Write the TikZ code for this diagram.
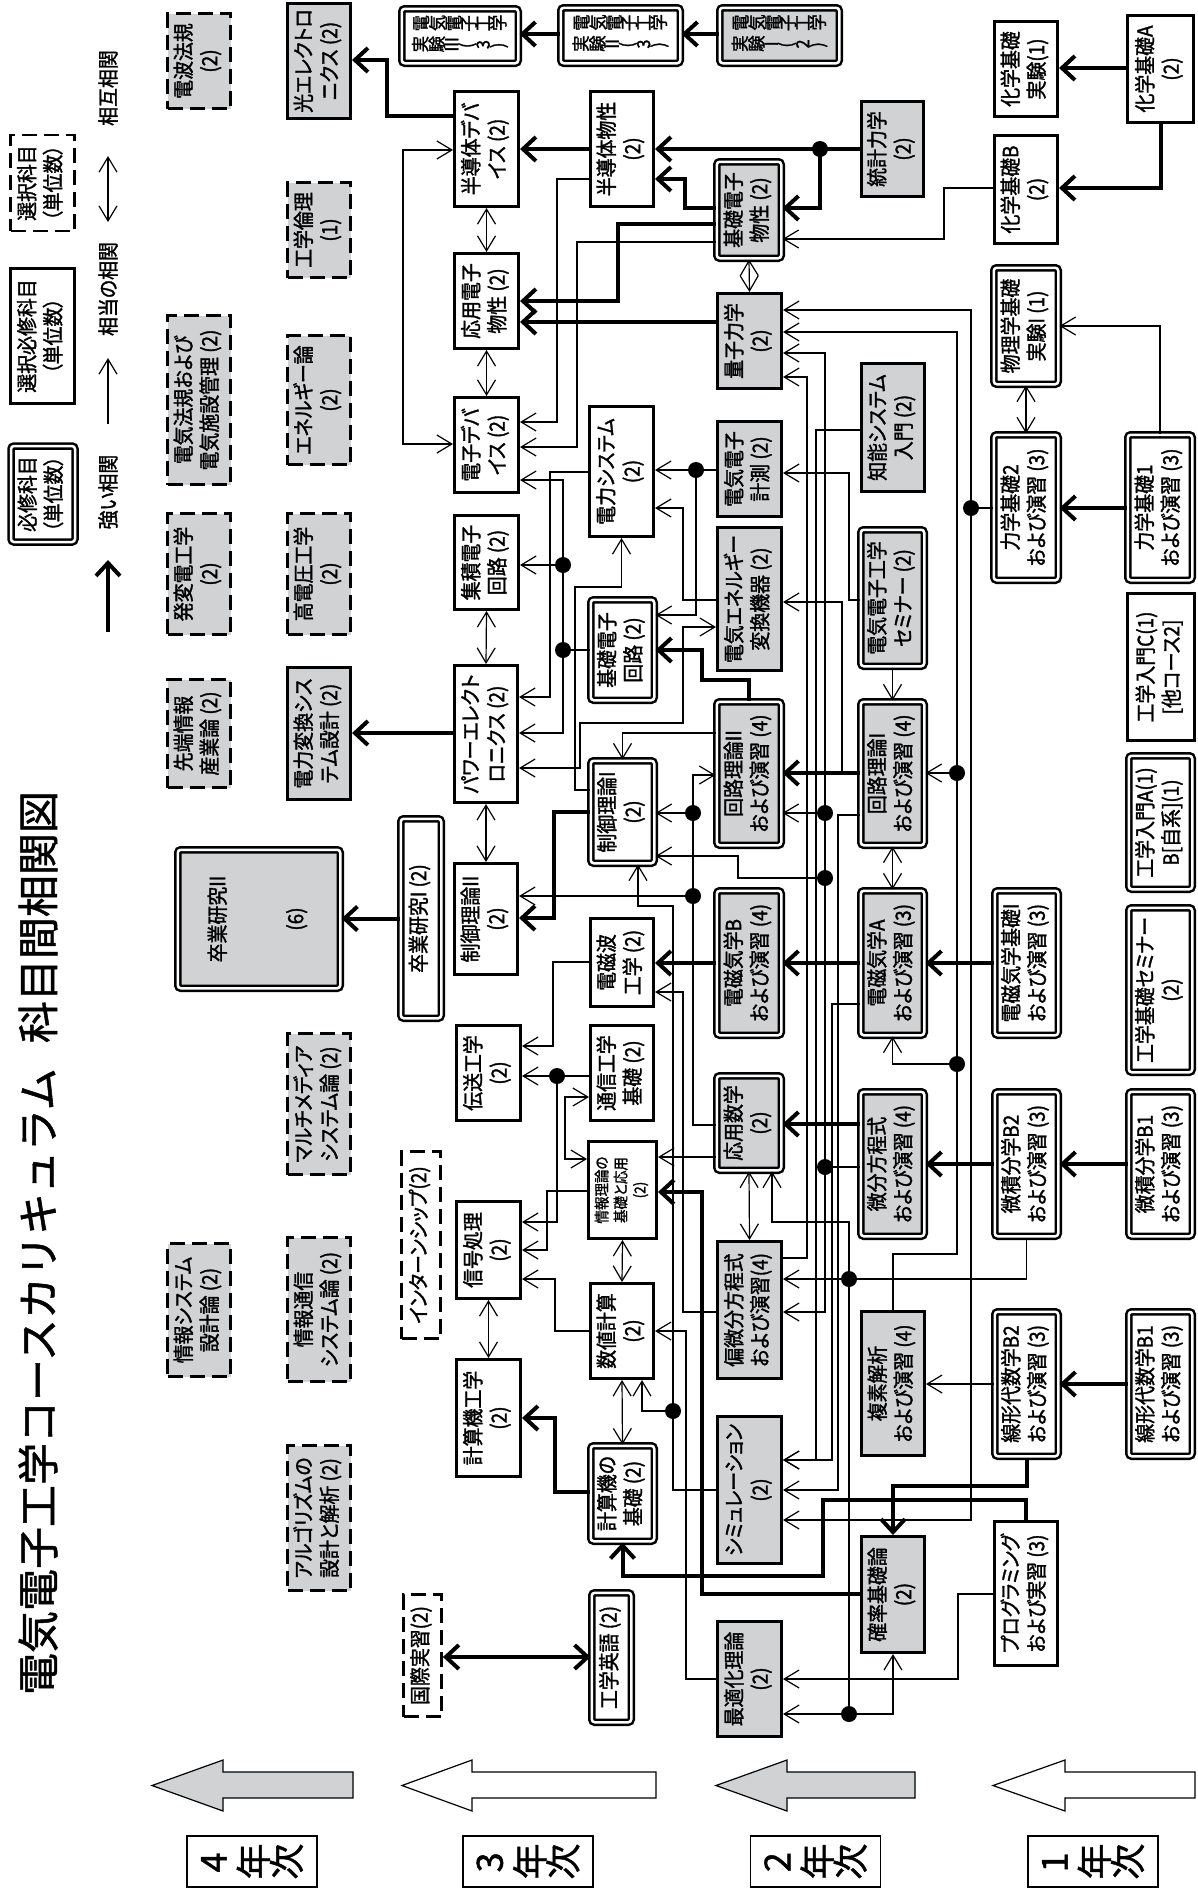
\documentclass[tikz,border=0pt]{standalone}
\usepackage{fontspec}
\setmainfont{Noto Sans CJK JP}[FakeStretch=0.9,FakeBold=1.5,RawFeature=+palt]
\newfontfamily\titlefont{Noto Sans CJK JP}[FakeBold=1.2]
\usepackage{graphicx}
\usetikzlibrary{arrows.meta,positioning}
\definecolor{boxgray}{RGB}{209,210,212}

% box text runs upwards
\newcommand{\rt}[1]{\rotatebox{90}{\begin{tabular}{@{}c@{}}#1\end{tabular}}}
% every character turned on its own
\newcommand{\tate}[1]{\tateloop#1\relax}
\newcommand{\tateloop}[1]{\ifx\relax#1\else\rotatebox[origin=c]{90}{#1}\expandafter\tateloop\fi}

\tikzset{
  box/.style={draw, align=center, inner sep=0pt, font=\fontsize{21}{26}\selectfont},
  req/.style={box, line width=2.5pt, double=white, double distance=2.5pt, rounded corners=3pt},
  semi/.style={box, line width=3pt},
  opt/.style={box, line width=2.8pt, dash pattern=on 15pt off 7pt},
  shade/.style={fill=boxgray},
  strong/.style={line width=4pt, -{Straight Barb[length=13pt,width=24pt]}},
  weak/.style={line width=1.2pt, -{Straight Barb[length=15pt,width=18pt]}},
  mutual/.style={line width=1.2pt, {Straight Barb[length=15pt,width=18pt]}-{Straight Barb[length=15pt,width=18pt]}},
  yearbox/.style={draw, line width=1.2pt, minimum width=130, minimum height=51, font=\titlefont\fontsize{36}{36}\selectfont},
}

\begin{document}
\begin{tikzpicture}[x=1pt,y=-1pt]
\fill[white] (0,0) rectangle (1198,1890);
\useasboundingbox (0,0) rectangle (1198,1890);

% Title and legend
\node[rotate=90, font=\titlefont\fontsize{42}{42}\selectfont] at (38,1243) (title) {電気電子工学コースカリキュラム\hspace{0.6em}科目間相関図};
\node[req, minimum width=64, minimum height=96] at (43,494) (legreq) {\rt{必修科目\\（単位数）}};
\node[semi, minimum width=64, minimum height=135] at (42.5,336) (legsemi) {\rt{選択必修科目\\（単位数）}};
\node[opt, minimum width=64, minimum height=96] at (42.5,183) (legopt) {\rt{選択科目\\（単位数）}};
\node[rotate=90, font=\fontsize{21}{26}\selectfont] at (108,492) (legstrong) {強い相関};
\node[rotate=90, font=\fontsize{21}{26}\selectfont] at (108,289) (legweak) {相当の相関};
\node[rotate=90, font=\fontsize{21}{26}\selectfont] at (108,88) (legmutual) {相互相関};
\coordinate (ls1) at (108,632); \coordinate (ls2) at (108,560);
\coordinate (lw1) at (108,424); \coordinate (lw2) at (108,358);
\coordinate (lm1) at (108,222); \coordinate (lm2) at (108,156);

% 4th year
\node[opt, shade, minimum width=63, minimum height=95] at (199,61) (denpa) {\rt{電波法規\\(2)}};
\node[opt, shade, minimum width=63, minimum height=169] at (199,400) (hoki) {\rt{電気法規および\\電気施設管理 (2)}};
\node[opt, shade, minimum width=63, minimum height=121] at (199,574) (hatsuhen) {\rt{発変電工学\\(2)}};
\node[opt, shade, minimum width=63, minimum height=108] at (199,733.5) (sentan) {\rt{先端情報\\産業論 (2)}};
\node[opt, shade, minimum width=63, minimum height=133] at (199,1310) (jsys) {\rt{情報システム\\設計論 (2)}};
\node[semi, shade, minimum width=63, minimum height=115] at (319,61) (hikari) {\rt{光エレクトロ\\ニクス (2)}};
\node[opt, shade, minimum width=63, minimum height=95] at (319,230) (rinri) {\rt{工学倫理\\(1)}};
\node[opt, shade, minimum width=63, minimum height=129] at (319,400) (energy) {\rt{エネルギー論\\(2)}};
\node[opt, shade, minimum width=63, minimum height=121] at (319,574) (koatsu) {\rt{高電圧工学\\(2)}};
\node[semi, shade, minimum width=63, minimum height=132] at (319,733.5) (henkan) {\rt{電力変換シス\\テム設計 (2)}};
\node[opt, shade, minimum width=63, minimum height=141] at (319,1104) (multi) {\rt{マルチメディア\\システム論 (2)}};
\node[opt, shade, minimum width=63, minimum height=144] at (319,1309.5) (jtsushin) {\rt{情報通信\\システム論 (2)}};
\node[opt, shade, minimum width=63, minimum height=145] at (319,1518) (algo) {\rt{アルゴリズムの\\設計と解析 (2)}};
\node[req, shade, minimum width=162.5, minimum height=138.5] at (259,919) (sotsu2) {\rt{卒業研究II\\[52pt](6)}};

% 3rd year
\node[req, minimum width=40.5, minimum height=199.5] at (421,918.5) (sotsu1) {\rt{卒業研究I (2)}};
\node[opt, minimum width=39, minimum height=187] at (421,1245) (intern) {\rt{インターンシップ(2)}};
\node[opt, minimum width=38, minimum height=122] at (422.5,1655.5) (kokusai) {\rt{国際実習(2)}};
\node[req, minimum width=116.5, minimum height=54.5, font=\fontsize{18}{21}\selectfont] at (460,36) (jikken3) {\begin{tabular}{@{}c@{}}\tate{電気電子工学}\\\tate{実験Ⅲ(3)}\end{tabular}};
\node[req, minimum width=119.5, minimum height=55.5, font=\fontsize{18}{21}\selectfont] at (620.5,35.5) (jikken2) {\begin{tabular}{@{}c@{}}\tate{電気電子工学}\\\tate{実験Ⅱ(3)}\end{tabular}};
\node[semi, minimum width=64, minimum height=115] at (486.5,149) (hdev) {\rt{半導体デバ\\イス (2)}};
\node[semi, minimum width=64, minimum height=95] at (486.5,301) (oyodenshi) {\rt{応用電子\\物性 (2)}};
\node[semi, minimum width=64, minimum height=95] at (486.5,445) (edev) {\rt{電子デバ\\イス (2)}};
\node[semi, minimum width=64, minimum height=94] at (486.5,562.5) (shuseki) {\rt{集積電子\\回路 (2)}};
\node[semi, minimum width=63, minimum height=137] at (486,734) (power) {\rt{パワーエレクト\\ロニクス (2)}};
\node[semi, minimum width=63, minimum height=111] at (486,919) (seigyo2) {\rt{制御理論II\\(2)}};
\node[semi, minimum width=64, minimum height=95] at (488.5,1073) (densou) {\rt{伝送工学\\(2)}};
\node[semi, minimum width=64, minimum height=97] at (488.5,1250) (shingo) {\rt{信号処理\\(2)}};
\node[semi, minimum width=64, minimum height=117] at (488.5,1418) (keisankiko) {\rt{計算機工学\\(2)}};
\node[semi, minimum width=63, minimum height=115] at (622,149) (hbussei) {\rt{半導体物性\\(2)}};
\node[semi, minimum width=64, minimum height=130] at (621.5,471.5) (denryoku) {\rt{電力システム\\(2)}};
\node[req, minimum width=63.5, minimum height=100.5] at (622.5,650) (kisokairo) {\rt{基礎電子\\回路 (2)}};
\node[req, minimum width=63.5, minimum height=102.5] at (622.5,812) (seigyo1) {\rt{制御理論I\\(2)}};
\node[semi, minimum width=63, minimum height=88] at (622,962.5) (denjiha) {\rt{電磁波\\工学 (2)}};
\node[semi, minimum width=63, minimum height=95] at (622,1073) (tsushin) {\rt{通信工学\\基礎 (2)}};
\node[semi, minimum width=68, minimum height=97, font=\fontsize{15}{19}\selectfont] at (622.5,1190) (joho) {\rt{情報理論の\\基礎と応用\\(2)}};
\node[semi, minimum width=63, minimum height=95] at (622,1331) (suchi) {\rt{数値計算\\(2)}};
\node[req, minimum width=63.5, minimum height=95.5] at (622.5,1493.5) (keisankiso) {\rt{計算機の\\基礎 (2)}};
\node[req, minimum width=39.5, minimum height=129.5] at (611.5,1657.5) (eigo) {\rt{工学英語 (2)}};

% 2nd year
\node[req, shade, minimum width=119.5, minimum height=55.5, font=\fontsize{18}{21}\selectfont] at (779.5,35.5) (jikken1) {\begin{tabular}{@{}c@{}}\tate{電気電子工学}\\\tate{実験Ⅰ(2)}\end{tabular}};
\node[req, shade, minimum width=64.5, minimum height=96.5] at (749,210) (kisobussei) {\rt{基礎電子\\物性 (2)}};
\node[semi, shade, minimum width=64, minimum height=95] at (749.5,341) (ryoshi) {\rt{量子力学\\(2)}};
\node[semi, shade, minimum width=64, minimum height=95] at (749.5,469) (keisoku) {\rt{電気電子\\計測 (2)}};
\node[semi, shade, minimum width=64, minimum height=143] at (749.5,599) (eneconv) {\rt{電気エネルギー\\変換機器 (2)}};
\node[req, shade, minimum width=64.5, minimum height=143.5] at (749,773.5) (kairo2) {\rt{回路理論II\\および演習 (4)}};
\node[req, shade, minimum width=64.5, minimum height=144.5] at (749,963) (denjiB) {\rt{電磁気学B\\および演習 (4)}};
\node[req, shade, minimum width=64.5, minimum height=94.5] at (749,1123) (oyosugaku) {\rt{応用数学\\(2)}};
\node[semi, shade, minimum width=64, minimum height=137] at (749.5,1310) (henbibun) {\rt{偏微分方程式\\および演習(4)}};
\node[semi, shade, minimum width=64, minimum height=147] at (749.5,1490) (simu) {\rt{シミュレーション\\(2)}};
\node[semi, shade, minimum width=64, minimum height=115] at (749.5,1679) (saiteki) {\rt{最適化理論\\(2)}};
\node[semi, shade, minimum width=62, minimum height=95] at (892.5,149) (tokei) {\rt{統計力学\\(2)}};
\node[semi, shade, minimum width=63, minimum height=128] at (893,427.5) (chino) {\rt{知能システム\\入門 (2)}};
\node[req, shade, minimum width=63.5, minimum height=136.5] at (892.5,598) (seminar) {\rt{電気電子工学\\セミナー (2)}};
\node[req, shade, minimum width=63.5, minimum height=143.5] at (892.5,773.5) (kairo1) {\rt{回路理論I\\および演習 (4)}};
\node[req, shade, minimum width=63.5, minimum height=144.5] at (892.5,963) (denjiA) {\rt{電磁気学A\\および演習 (3)}};
\node[req, shade, minimum width=63.5, minimum height=144.5] at (892.5,1164) (bibun) {\rt{微分方程式\\および演習 (4)}};
\node[semi, shade, minimum width=63, minimum height=144] at (893,1383.5) (fukuso) {\rt{複素解析\\および演習 (4)}};
\node[semi, shade, minimum width=63, minimum height=116] at (893,1594.5) (kakuritsu) {\rt{確率基礎論\\(2)}};

% 1st year
\node[semi, minimum width=63, minimum height=95] at (1026,69) (kagakujikken) {\rt{化学基礎\\実験(1)}};
\node[semi, minimum width=63, minimum height=108] at (1026,189.5) (kagakuB) {\rt{化学基礎B\\(2)}};
\node[req, minimum width=64.5, minimum height=116.5] at (1026,326) (butsurijikken) {\rt{物理学基礎\\実験I (1)}};
\node[req, minimum width=64.5, minimum height=145.5] at (1026,507.5) (rikigaku2) {\rt{力学基礎2\\および演習 (3)}};
\node[req, minimum width=63.5, minimum height=144.5] at (1026.5,963) (denjikiso) {\rt{電磁気学基礎I\\および演習 (3)}};
\node[req, minimum width=63.5, minimum height=144.5] at (1026.5,1164) (bisekiB2) {\rt{微積分学B2\\および演習 (3)}};
\node[req, minimum width=63.5, minimum height=144.5] at (1026.5,1384) (senkeiB2) {\rt{線形代数学B2\\および演習 (3)}};
\node[semi, minimum width=63, minimum height=144] at (1026,1593.5) (program) {\rt{プログラミング\\および実習 (3)}};
\node[semi, minimum width=66, minimum height=107] at (1160.5,69) (kagakuA) {\rt{化学基礎A\\(2)}};
\node[req, minimum width=64.5, minimum height=145.5] at (1160,507.5) (rikigaku1) {\rt{力学基礎1\\および演習 (3)}};
\node[semi, minimum width=67, minimum height=147] at (1161,667) (nyumonC) {\rt{工学入門C(1)\\{}[他コース2]}};
\node[req, minimum width=63.5, minimum height=133.5] at (1160.5,822.5) (nyumonAB) {\rt{工学入門A(1)\\B[自系](1)}};
\node[req, minimum width=63.5, minimum height=164.5] at (1160.5,990) (kisosemi) {\rt{工学基礎セミナー\\(2)}};
\node[req, minimum width=63.5, minimum height=144.5] at (1160.5,1164) (bisekiB1) {\rt{微積分学B1\\および演習 (3)}};
\node[req, minimum width=63.5, minimum height=144.5] at (1160.5,1384) (senkeiB1) {\rt{線形代数学B1\\および演習 (3)}};

% year arrows and labels
\foreach \tip/\base/\tail/\col in {152/223/353/boxgray, 402/472/656/white, 716/787/915/boxgray, 993/1065/1195/white}
  \draw[line width=1.2pt, fill=\col] (\tip,1785.5) -- (\base,1760) -- (\base,1772) -- (\tail,1772) -- (\tail,1798) -- (\base,1798) -- (\base,1811) -- cycle;
\node[yearbox] at (252,1861.5) (year4) {\tate{4}\hspace{10pt}\tate{年次}};
\node[yearbox] at (528,1861.5) (year3) {\tate{3}\hspace{10pt}\tate{年次}};
\node[yearbox] at (815.5,1861.5) (year2) {\tate{2}\hspace{10pt}\tate{年次}};
\node[yearbox] at (1093,1861.5) (year1) {\tate{1}\hspace{10pt}\tate{年次}};

% legend arrows
\draw[strong] (ls1) -- (ls2);
\draw[weak] (lw1) -- (lw2);
\draw[mutual] (lm1) -- (lm2);

% strong links
\draw[strong] (jikken1.west |- 0,34) -- (jikken2.east |- 0,34);
\draw[strong] (jikken2.west |- 0,34) -- (jikken3.east |- 0,34);
\draw[strong] (hdev.west |- 0,116) -| (387,60) -- (hikari.east |- 0,60);
\draw[strong] (hbussei.west |- 0,149) -- (hdev.east |- 0,149);
\coordinate (jtok) at (820,149);
\draw[strong] (tokei.west |- jtok) -- (hbussei.east |- jtok);
\draw[strong] (jtok) |- (kisobussei.east |- 0,208);
\draw[strong] (kisobussei.west |- 0,208) -| (685,179) -- (hbussei.east |- 0,179);
\draw[strong] (kisobussei.west |- 0,224) -| (618,301) -- (oyodenshi.east |- 0,301);
\draw[strong] (ryoshi.west |- 0,322) -- (oyodenshi.east |- 0,322);
\draw[strong] (kagakuA.west |- 0,68) -- (kagakujikken.east |- 0,68);
\draw[strong] (kagakuA.south) |- (kagakuB.east |- 0,188);
\draw[strong] (rikigaku1.west |- 0,508) -- (rikigaku2.east |- 0,508);
\draw[strong] (power.west |- 0,733) -- (henkan.east |- 0,733);
\draw[strong] (sotsu1.west) -- (sotsu2.east |- sotsu1.west);
\draw[strong] (seigyo1.west |- 0,812) -| (554,918) -- (seigyo2.east |- 0,918);
\draw[strong] (kairo2.north) |- (702,680) |- (kisokairo.east |- 0,650);
\draw[strong] (kairo1.west |- 0,773) -- (kairo2.east |- 0,773);
\draw[strong] (denjiA.west |- 0,963) -- (denjiB.east |- 0,963);
\draw[strong] (denjiB.west |- 0,963) -- (denjiha.east |- 0,963);
\draw[strong] (denjikiso.west |- 0,963) -- (denjiA.east |- 0,963);
\draw[strong] (bibun.west |- 0,1124) -- (oyosugaku.east |- 0,1124);
\draw[strong] (bisekiB2.west |- 0,1164) -- (bibun.east |- 0,1164);
\draw[strong] (bisekiB1.west |- 0,1164) -- (bisekiB2.east |- 0,1164);
\draw[strong] (senkeiB1.west |- 0,1384) -- (senkeiB2.east |- 0,1384);
\draw[strong] (senkeiB2.south) |- (893,1486) -- (kakuritsu.north);
\draw[strong] (program.north) |- (823,1500) -- (823,1576) -| (keisankiso.south);
\draw[strong] (kakuritsu.west |- 0,1594) -| (702,1192) -- (joho.east |- 0,1192);
\draw[strong] (keisankiso.west |- 0,1492) -| (555,1418) -- (keisankiko.east |- 0,1418);
\draw[strong, {Straight Barb[length=13pt,width=24pt]}-{Straight Barb[length=13pt,width=24pt]}] (kokusai.east |- 0,1657) -- (eigo.west |- 0,1657);

% weak links
\draw[weak] (rikigaku1.north) |- (butsurijikken.east |- 0,326);
\draw[weak] (kagakuB.west |- 0,188) -| (944,239) -- (kisobussei.east |- 0,239);
\coordinate (jrik) at (971,508);
\draw[weak] (rikigaku2.west |- jrik) -- (jrik) |- (ryoshi.east |- 0,310);
\draw[weak] (jrik) |- (simu.east |- 0,1520);
\coordinate (jfuk1) at (957,773); \coordinate (jfuk2) at (957,1064);
\draw[weak] (fukuso.north) |- (957,1254) |- (ryoshi.east |- 0,332);
\draw[weak] (jfuk1) -- (kairo1.east |- jfuk1);
\draw[weak] (jfuk2) -| (denjiA.south);
\coordinate (jbib1) at (825,1167); \coordinate (jbib2) at (825,813); \coordinate (jbib3) at (825,878);
\draw[weak] (bibun.west |- jbib1) -- (jbib1) |- (ryoshi.east |- 0,353);
\draw[weak] (jbib1) |- (henbibun.east |- 0,1312);
\draw[weak] (jbib2) -- (kairo2.east |- jbib2);
\draw[weak] (jbib3) -| (738,856) -- (seigyo1.east |- 0,856);
\draw[weak] (henbibun.east |- 0,1258) -| (807,377) -- (ryoshi.east |- 0,377);
\draw[weak] (chino.west |- 0,430) -| (816,1460) -- (simu.east |- 0,1460);
\draw[weak] (seminar.west |- 0,600) -| (849,473) -- (keisoku.east |- 0,473);
\draw[weak] (seminar.south) -- (kairo1.north);
\draw[weak] (kairo1.west |- 0,773) -| (842,602) -- (eneconv.east |- 0,602);
\draw[weak] (kairo1.west |- 0,815) -| (838,1490) -- (simu.east |- 0,1490);
\draw[weak] (denjiA.west |- 0,1004) -| (832,1460) -- (simu.east |- 0,1460);
\coordinate (jkei) at (696,470);
\draw[weak] (keisoku.west |- jkei) -- (jkei) -- (denryoku.east |- jkei);
\draw[weak] (jkei) |- (kisokairo.east |- 0,615);
\draw[weak] (eneconv.west |- 0,600) -| (683,508) -- (denryoku.east |- 0,508);
\draw[weak] (kairo2.west |- 0,733) -| (seigyo1.north);
\draw[weak] (seigyo1.west |- 0,790) -| (575,587) -| (denryoku.south);
\coordinate (jkk1) at (563,650); \coordinate (jkk2) at (563,565);
\draw[weak] (kisokairo.west |- jkk1) -- (jkk1) |- (edev.east |- 0,480);
\draw[weak] (jkk2) -- (shuseki.east |- jkk2);
\draw[weak] (jkk1) |- (power.east |- 0,733);
\draw[weak] (denryoku.west |- 0,472) -| (550,697) -- (power.east |- 0,697);
\draw[weak] (hbussei.west |- 0,179) -| (557,422) -- (edev.east |- 0,422);
\draw[weak] (kisobussei.west |- 0,242) -| (577,447) -- (edev.east |- 0,447);
\coordinate (jos1) at (693,813); \coordinate (jos2) at (693,896);
\draw[weak] (oyosugaku.west |- 0,1125) -| (693,775) -- (kairo2.west |- 0,775);
\draw[weak] (jos1) -- (seigyo1.east |- jos1);
\draw[weak] (jos2) -- (seigyo2.east |- jos2);
\draw[weak] (oyosugaku.west |- 0,1157) -- (joho.east |- 0,1157);
\draw[weak] (denjiha.west |- 0,962) -| (553,1046) -- (densou.east |- 0,1046);
\coordinate (jtsu) at (557,1076);
\draw[weak] (tsushin.west |- jtsu) -- (jtsu) -- (densou.east |- jtsu);
\draw[weak] (jtsu) |- (shingo.east |- 0,1222);
\draw[weak] (joho.west |- 0,1191) -| (547,1250) -- (shingo.east |- 0,1250);
\draw[weak] (suchi.west |- 0,1331) -| (555,1279) -- (shingo.east |- 0,1279);
\draw[weak] (saiteki.west |- 0,1679) -| (686,1331) -- (suchi.east |- 0,1331);
\draw[weak] (henbibun.west |- 0,1312) -| (683,992) -- (denjiha.east |- 0,992);
\coordinate (jsim) at (673,1411);
\draw[weak] (simu.west |- 0,1490) -| (jsim) -| (suchi.south -| 642,0);
\draw[weak] (jsim) |- (638,906) -- (seigyo1.south -| 638,0);
\draw[weak] (senkeiB2.west |- 0,1384) -- (fukuso.east |- 0,1384);
\draw[weak] (program.west |- 0,1594) -| (958,1679) -- (saiteki.east |- 0,1679);
\coordinate (jbs1) at (849,1279); \coordinate (jbs2) at (849,1714);
\draw[weak] (bisekiB2.south) |- (jbs1) -- (henbibun.east |- jbs1);
\draw[weak] (jbs1) |- (772,1222) -- (oyosugaku.south -| 772,0);
\draw[weak] (jbs1) -- (jbs2) -- (saiteki.east |- jbs2);
\draw[weak] (jbs2) -| (kakuritsu.south);

% mutual links
\draw[mutual] (hdev.south) -- (oyodenshi.north);
\draw[mutual] (oyodenshi.south) -- (edev.north);
\draw[mutual] (hdev.west |- 0,150) -| (403,444) -- (edev.west |- 0,444);
\draw[mutual] (shuseki.south) -- (power.north);
\draw[mutual] (power.south) -- (seigyo2.north);
\draw[mutual] (power.east |- 0,768) -| (580,723) -| (683,627) -- (eneconv.west |- 0,627);
\draw[mutual] (kisobussei.south) -- (ryoshi.north);
\draw[mutual] (butsurijikken.south) -- (rikigaku2.north);
\draw[mutual] (kairo1.south) -- (denjiA.north);
\draw[mutual] (tsushin.west |- 0,1097) -| (565,1159) -- (joho.west |- 0,1159);
\draw[mutual] (joho.south) -- (suchi.north);
\draw[mutual] (shingo.south) -- (keisankiko.north);
\draw[mutual] (suchi.south) -- (keisankiso.north);
\draw[mutual] (oyosugaku.south) -- (henbibun.north);

% junctions
\foreach \j in {jtok,jrik,jfuk1,jfuk2,jbib1,jbib2,jbib3,jkei,jkk1,jkk2,jos1,jos2,jtsu,jsim,jbs1,jbs2}
  \fill (\j) circle[radius=8pt];

\end{tikzpicture}
\end{document}
